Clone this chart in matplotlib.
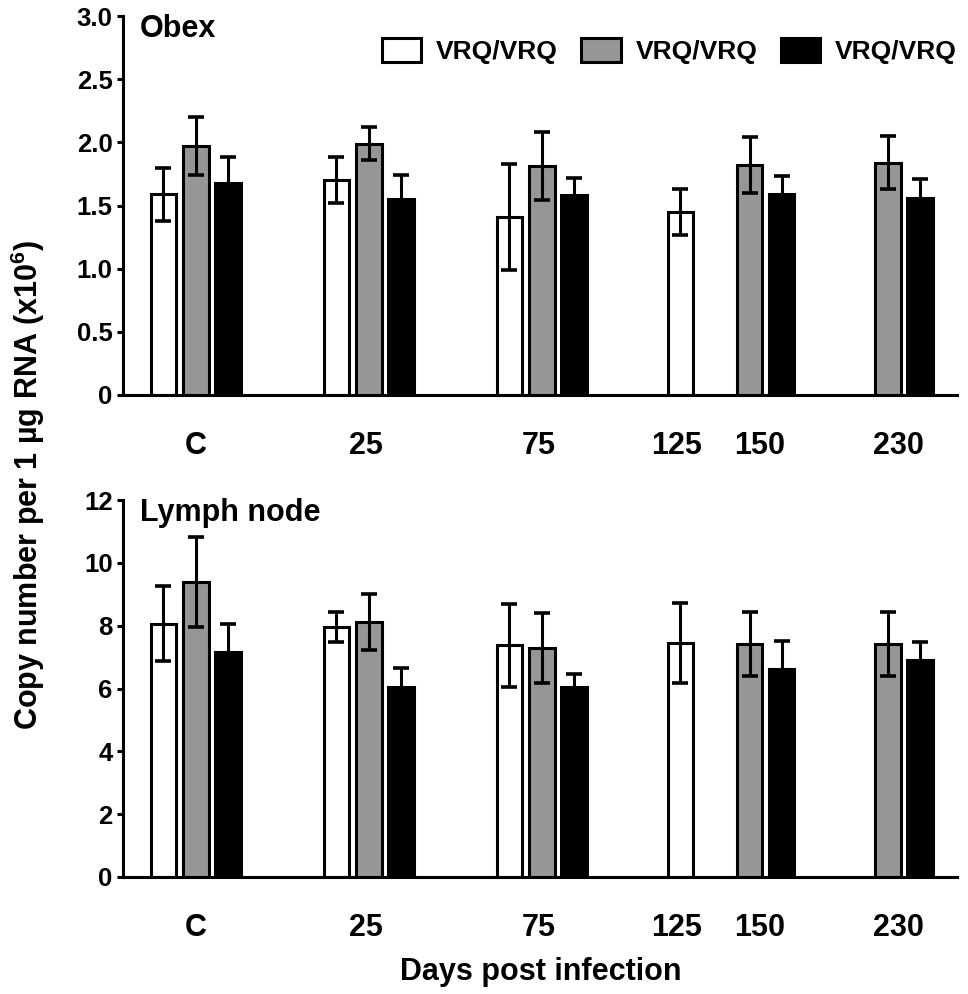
import numpy as np
import matplotlib
matplotlib.use("Agg")
from matplotlib import pyplot as plt
from matplotlib.patches import Patch

nan = np.nan

# DATA ########################################################################

days = ["C", "25", "75", "125", "150", "230"]
series_labels = ["VRQ/VRQ", "VRQ/VRQ", "VRQ/VRQ"]

obex_white = [1.59, 1.70, 1.41, 1.45, nan, nan]
obex_white_err = [0.21, 0.18, 0.42, 0.18, nan, nan]
obex_grey = [1.97, 1.99, 1.81, nan, 1.82, 1.84]
obex_grey_err = [0.23, 0.13, 0.27, nan, 0.22, 0.21]
obex_black = [1.68, 1.55, 1.58, nan, 1.59, 1.56]
obex_black_err = [0.20, 0.19, 0.14, nan, 0.14, 0.15]

lymph_white = [8.06, 7.96, 7.37, 7.45, nan, nan]
lymph_white_err = [1.20, 0.48, 1.32, 1.26, nan, nan]
lymph_grey = [9.39, 8.12, 7.29, nan, 7.42, 7.42]
lymph_grey_err = [1.43, 0.90, 1.10, nan, 1.03, 1.02]
lymph_black = [7.16, 6.05, 6.05, nan, 6.62, 6.91]
lymph_black_err = [0.90, 0.60, 0.40, nan, 0.90, 0.57]

# LAYOUT ######################################################################

group_pos = np.array([0.0, 1.0, 2.0, 2.99, 3.2, 4.0])
offsets = [-0.19, 0.0, 0.185]
tick_pos = [0.0, 0.98, 1.98, 2.78, 3.26, 4.06]
bar_width = 0.145

colors = ["white", "#969696", "black"]
LW = 2.2

plt.rcParams["font.family"] = ["Liberation Sans", "DejaVu Sans"]
plt.rcParams["font.weight"] = "bold"
plt.rcParams["mathtext.default"] = "regular"

W, H = 968, 994
fig = plt.figure(figsize=(W / 100, H / 100), dpi=100)

ax_top = fig.add_axes([123 / W, (H - 395) / H, 834 / W, 379 / H])
ax_bot = fig.add_axes([123 / W, (H - 877) / H, 834 / W, 377 / H])


def draw_panel(ax, values, errors, ymax, yticks, yticklabels, title):
    for i, (vals, errs) in enumerate(zip(values, errors)):
        vals = np.asarray(vals, dtype=float)
        errs = np.asarray(errs, dtype=float)
        ok = ~np.isnan(vals)
        x = group_pos[ok] + offsets[i]
        ax.bar(x, vals[ok], width=bar_width, color=colors[i],
               edgecolor="black", linewidth=LW, zorder=2)
        ax.errorbar(x, vals[ok], yerr=errs[ok], fmt="none", ecolor="black",
                    elinewidth=LW, capsize=6, capthick=2.6, zorder=3)

    ax.set_xlim(-0.422, 4.399)
    ax.set_ylim(0, ymax)
    ax.set_yticks(yticks)
    ax.set_yticklabels(yticklabels)
    ax.set_xticks(tick_pos)
    ax.set_xticklabels(days)

    for side in ["top", "right"]:
        ax.spines[side].set_visible(False)
    for side in ["left", "bottom"]:
        ax.spines[side].set_linewidth(LW)
        ax.spines[side].set_zorder(4)

    ax.tick_params(axis="y", length=4.5, width=LW, pad=3, labelsize=18.5)
    ax.tick_params(axis="x", length=0, pad=26, labelsize=22)

    ax.text(0.02, 1.005, title, transform=ax.transAxes, ha="left", va="top",
            fontsize=22, fontweight="bold")


draw_panel(ax_top,
           [obex_white, obex_grey, obex_black],
           [obex_white_err, obex_grey_err, obex_black_err],
           3.0, [0, 0.5, 1.0, 1.5, 2.0, 2.5, 3.0],
           ["0", "0.5", "1.0", "1.5", "2.0", "2.5", "3.0"], "Obex")

draw_panel(ax_bot,
           [lymph_white, lymph_grey, lymph_black],
           [lymph_white_err, lymph_grey_err, lymph_black_err],
           12, [0, 2, 4, 6, 8, 10, 12],
           ["0", "2", "4", "6", "8", "10", "12"], "Lymph node")

# LEGEND ######################################################################

handles = [Patch(facecolor=c, edgecolor="black", linewidth=LW) for c in colors]
ax_top.legend(handles, series_labels, loc="center right",
              bbox_to_anchor=(1.0, (395 - 51) / 379), ncol=3, frameon=False,
              fontsize=19, handlelength=1.5, handleheight=1.06,
              handletextpad=0.57, columnspacing=0.87, borderpad=0,
              borderaxespad=0)

# AXIS LABELS #################################################################

fig.text(0.029, 0.512, "Copy number per 1 \u00b5g RNA (x10$^{6}$)",
         rotation=90, ha="center", va="center", fontsize=22,
         fontweight="bold")
fig.text(541 / W, 1 - 972 / H, "Days post infection", ha="center",
         va="center", fontsize=22, fontweight="bold")

fig.savefig("out.png", dpi=100)
